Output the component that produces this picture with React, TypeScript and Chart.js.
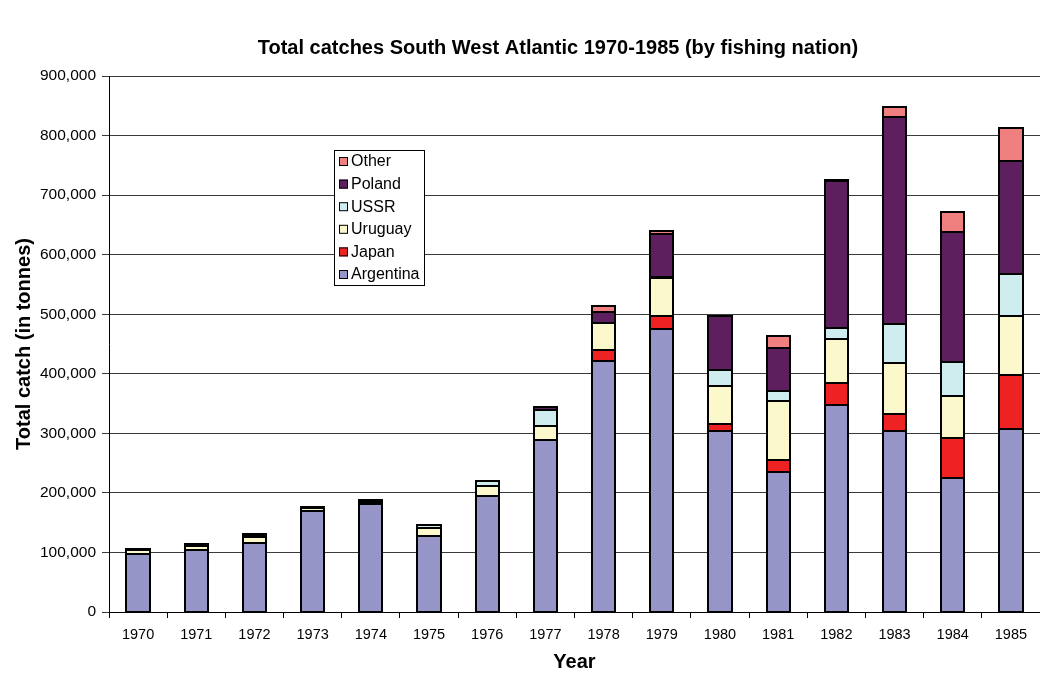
import React, { useEffect, useRef } from "react";
import { Chart, registerables } from "chart.js";

Chart.register(...registerables);

// Years on the category axis
const years = [
  "1970", "1971", "1972", "1973", "1974", "1975", "1976", "1977",
  "1978", "1979", "1980", "1981", "1982", "1983", "1984", "1985",
];

// Catches per fishing nation, tonnes
const argentina = [98000, 104500, 116500, 169000, 182000, 128000, 195000, 288000, 422000, 476000, 303500, 235500, 347500, 303500, 225000, 307500];
const japan = [0, 0, 0, 0, 0, 0, 0, 0, 18000, 21000, 12500, 20500, 37500, 29000, 67500, 91000];
const uruguay = [5500, 6000, 10000, 5000, 0, 13000, 17000, 25000, 46000, 63000, 63500, 97500, 73000, 86000, 70000, 99000];
const ussr = [0, 0, 0, 0, 0, 5000, 8500, 27000, 0, 2000, 26500, 17000, 19000, 65500, 57000, 70500];
const poland = [2500, 3000, 2000, 3000, 3500, 0, 0, 4000, 17000, 72500, 91500, 73000, 247000, 347000, 218500, 189500];
const other = [0, 0, 2500, 0, 3000, 0, 0, 0, 11000, 4500, 0, 20000, 1000, 17500, 34000, 54500];

const seriesNames = ["Argentina", "Japan", "Uruguay", "USSR", "Poland", "Other"];
const seriesValues = [argentina, japan, uruguay, ussr, poland, other];
const seriesColors = ["#9595C8", "#EE2222", "#FBF8CC", "#CFECEF", "#5E1F5E", "#F08080"];

const yTicks = [0, 100000, 200000, 300000, 400000, 500000, 600000, 700000, 800000, 900000];

const FONT = "'Liberation Sans', Arial, sans-serif";

const chartTitle = "Total catches South West Atlantic 1970-1985 (by fishing nation)";
const yTitle = "Total catch (in tonnes)";
const xTitle = "Year";

// Crisp black outline around every stacked segment, edges shared between neighbours
const segmentOutlines = {
  id: "segmentOutlines",
  afterDatasetsDraw(chart: any) {
    const ctx = chart.ctx as CanvasRenderingContext2D;
    ctx.save();
    ctx.strokeStyle = "#000";
    ctx.lineWidth = 2;
    chart.data.datasets.forEach((_: any, di: number) => {
      const meta = chart.getDatasetMeta(di);
      meta.data.forEach((el: any) => {
        const { x, y, base, width } = el.getProps(["x", "y", "base", "width"], true);
        const top = Math.round(Math.min(y, base));
        const bottom = Math.round(Math.max(y, base));
        if (bottom - top < 1) return;
        const left = Math.round(x - width / 2);
        const right = Math.round(x + width / 2);
        ctx.strokeRect(left, top, right - left, bottom - top);
      });
    });
    ctx.restore();
  },
};

// Titles and the boxed legend inside the plot
const decorations = {
  id: "decorations",
  afterDraw(chart: any) {
    const ctx = chart.ctx as CanvasRenderingContext2D;
    const area = chart.chartArea;
    ctx.save();
    ctx.fillStyle = "#000";
    ctx.textAlign = "center";
    ctx.textBaseline = "middle";
    ctx.font = `bold 20px ${FONT}`;
    ctx.fillText(chartTitle, 558, 48);
    ctx.fillText(xTitle, (area.left + area.right) / 2, 662);
    ctx.save();
    ctx.translate(24, (area.top + area.bottom) / 2);
    ctx.rotate(-Math.PI / 2);
    ctx.fillText(yTitle, 0, 0);
    ctx.restore();

    // legend box
    const bx = 334.5, by = 150.5, bw = 90, bh = 135;
    ctx.fillStyle = "#fff";
    ctx.fillRect(bx, by, bw, bh);
    ctx.strokeStyle = "#000";
    ctx.lineWidth = 1;
    ctx.strokeRect(bx, by, bw, bh);
    ctx.font = `16px ${FONT}`;
    ctx.textAlign = "left";
    const rowH = 22.6;
    for (let i = 0; i < seriesNames.length; i++) {
      const idx = seriesNames.length - 1 - i;
      const cy = by + 11 + i * rowH;
      ctx.fillStyle = seriesColors[idx];
      ctx.fillRect(339, cy - 4.5, 9, 9);
      ctx.strokeStyle = "#000";
      ctx.strokeRect(339.5, cy - 4, 8, 8);
      ctx.fillStyle = "#000";
      ctx.fillText(seriesNames[idx], 351, cy + 0.5);
    }
    ctx.restore();
  },
};

export default function App() {
  const canvasRef = useRef<HTMLCanvasElement | null>(null);

  useEffect(() => {
    document.body.style.margin = "0";
    const canvas = canvasRef.current;
    if (!canvas) return;
    const chart = new Chart(canvas, {
      type: "bar",
      data: {
        labels: years,
        datasets: seriesNames.map((name, i) => ({
          label: name,
          data: seriesValues[i],
          backgroundColor: seriesColors[i],
          borderWidth: 0,
          categoryPercentage: 0.8,
          barPercentage: 0.5,
        })),
      },
      options: {
        responsive: false,
        animation: false,
        devicePixelRatio: 1,
        layout: { padding: { top: 76, left: 0, right: 0, bottom: 0 } },
        plugins: {
          legend: { display: false },
          title: { display: false },
          tooltip: { enabled: false },
        },
        scales: {
          x: {
            stacked: true,
            afterFit: (scale: any) => {
              scale.height = 63;
            },
            grid: {
              drawOnChartArea: false,
              drawTicks: true,
              tickLength: 6,
              color: "#000",
              offset: true,
            },
            border: { color: "#000", width: 1 },
            ticks: {
              color: "#000",
              padding: 8,
              maxRotation: 0,
              autoSkip: false,
              font: { family: FONT, size: 14.5 },
            },
          },
          y: {
            stacked: true,
            min: 0,
            max: 900000,
            afterFit: (scale: any) => {
              scale.width = 109;
            },
            afterBuildTicks: (scale: any) => {
              scale.ticks = yTicks.map((v) => ({ value: v }));
            },
            grid: {
              color: "#3a3a3a",
              lineWidth: 1,
              tickLength: 7,
              drawTicks: true,
            },
            border: { color: "#000", width: 1 },
            ticks: {
              color: "#000",
              padding: 6,
              font: { family: FONT, size: 15.5 },
              callback: (v: any) => Number(v).toLocaleString("en-US"),
            },
          },
        },
      },
      plugins: [segmentOutlines, decorations],
    });
    return () => chart.destroy();
  }, []);

  return (
    <div style={{ position: "absolute", left: 0, top: 0, width: 1040, height: 675, background: "#fff" }}>
      <canvas ref={canvasRef} width={1040} height={675} style={{ display: "block" }} />
    </div>
  );
}
